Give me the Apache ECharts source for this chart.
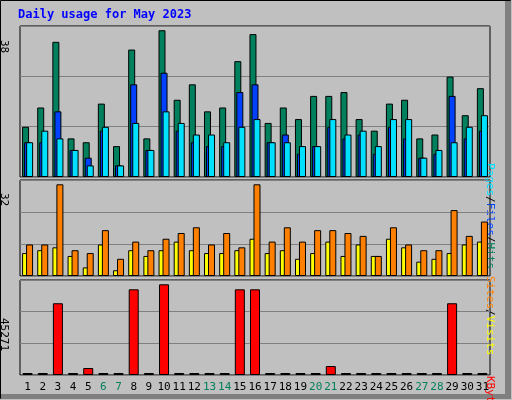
<!DOCTYPE html>
<html>
<head>
<meta charset="utf-8">
<script src="https://cdn.jsdelivr.net/npm/echarts@6/dist/echarts.min.js"></script>
<style>
  html, body { margin: 0; padding: 0; background: #c0c0c0; }
  #chart { width: 512px; height: 400px; }
</style>
</head>
<body>
<div id="chart"></div>
<script>
// daily values for May 2023
var days = ['1','2','3','4','5','6','7','8','9','10','11','12','13','14','15','16',
            '17','18','19','20','21','22','23','24','25','26','27','28','29','30','31'];
var weekendDays = ['6','7','13','14','20','21','27','28'];
var hits  = [13,18,35,10,9,19,8,33,10,38,20,24,17,18,30,37,14,18,15,21,21,22,15,12,19,20,10,11,26,16,23];
var files = [9,9,17,7,5,12,3,24,7,27,12,9,8,8,22,24,9,11,6,8,13,10,11,6,13,10,5,6,21,10,12];
var pages = [9,12,10,7,3,13,3,14,7,17,14,11,11,9,13,15,9,9,8,8,15,11,12,8,15,15,5,7,9,13,16];
var sites  = [8,9,10,7,3,11,2,9,7,9,12,9,8,8,9,13,8,9,6,8,12,7,11,7,13,10,5,6,8,11,12];
var visits = [11,11,32,9,8,16,6,12,9,13,15,17,11,15,10,32,12,17,12,16,16,15,14,7,17,11,9,9,23,14,19];
var kbytes = [200,200,35820,200,3480,200,200,42780,200,45271,1000,200,200,200,42780,42780,
              200,200,200,200,4480,200,1000,200,1000,200,200,200,35820,200,1000];
var maxLabels = ['38', '32', '45271'];

var chart = echarts.init(document.getElementById('chart'));
var mono = 'DejaVu Sans Mono';
var edge = { borderColor: '#000', borderWidth: 1 };

function yAx(idx, max) {
  return {
    gridIndex: idx, min: 0, max: max, interval: max / 3,
    axisLabel: { show: false }, axisLine: { show: false }, axisTick: { show: false },
    splitLine: { lineStyle: { color: '#808080', width: 1 } }
  };
}
function xAx(idx, labels) {
  return {
    gridIndex: idx, type: 'category', data: days,
    axisLine: { show: false }, axisTick: { show: false },
    axisLabel: labels ? {
      show: true, fontFamily: mono, fontSize: 11, margin: 7, interval: 0,
      color: function (v) { return weekendDays.indexOf(v) >= 0 ? '#00805c' : '#000'; }
    } : { show: false }
  };
}
function sideText(x, y, parts) {
  return {
    type: 'text', x: x, y: y, rotation: -Math.PI / 2,
    style: { rich: parts.rich, text: parts.text, font: '11px ' + mono }
  };
}

chart.setOption({
  backgroundColor: '#c0c0c0',
  animation: false,
  grid: [
    { left: 20, right: 22, top: 26, height: 151, show: true, backgroundColor: '#c0c0c0', borderColor: '#000', borderWidth: 1 },
    { left: 20, right: 22, top: 180, height: 96, show: true, backgroundColor: '#c0c0c0', borderColor: '#000', borderWidth: 1 },
    { left: 20, right: 22, top: 280, height: 95, show: true, backgroundColor: '#c0c0c0', borderColor: '#000', borderWidth: 1 }
  ],
  xAxis: [xAx(0, false), xAx(1, false), xAx(2, true)],
  yAxis: [yAx(0, 39.1), yAx(1, 33.5), yAx(2, 47430)],
  series: [
    { type: 'bar', xAxisIndex: 0, yAxisIndex: 0, data: hits,  barWidth: 7, barGap: '-71%', itemStyle: Object.assign({ color: '#00805c' }, edge) },
    { type: 'bar', xAxisIndex: 0, yAxisIndex: 0, data: files, barWidth: 7, barGap: '-71%', itemStyle: Object.assign({ color: '#0040ff' }, edge) },
    { type: 'bar', xAxisIndex: 0, yAxisIndex: 0, data: pages, barWidth: 7, barGap: '-71%', itemStyle: Object.assign({ color: '#00e0ff' }, edge) },
    { type: 'bar', xAxisIndex: 1, yAxisIndex: 1, data: sites,  barWidth: 7, barGap: '-43%', itemStyle: Object.assign({ color: '#ffff00' }, edge) },
    { type: 'bar', xAxisIndex: 1, yAxisIndex: 1, data: visits, barWidth: 7, barGap: '-43%', itemStyle: Object.assign({ color: '#ff8000' }, edge) },
    { type: 'bar', xAxisIndex: 2, yAxisIndex: 2, data: kbytes, barWidth: 10, barMinHeight: 2, itemStyle: Object.assign({ color: '#ff0000' }, edge) }
  ],
  graphic: [
    // outer frame
    { type: 'rect', shape: { x: 0.5, y: 0.5, width: 510, height: 398 }, style: { fill: 'none', stroke: '#000' }, silent: true },
    { type: 'rect', shape: { x: 505, y: 1, width: 6, height: 398 }, style: { fill: '#808080' }, silent: true },
    { type: 'rect', shape: { x: 1, y: 394, width: 510, height: 5 }, style: { fill: '#808080' }, silent: true },
    { type: 'text', x: 18, y: 9, style: { text: 'Daily usage for May 2023', fill: '#0000ff', font: 'bold 12px ' + mono } },
    { type: 'text', x: 9, y: 40, rotation: -Math.PI / 2, style: { text: maxLabels[0], fill: '#000', font: '11px ' + mono } },
    { type: 'text', x: 9, y: 193, rotation: -Math.PI / 2, style: { text: maxLabels[1], fill: '#000', font: '11px ' + mono } },
    { type: 'text', x: 9, y: 318, rotation: -Math.PI / 2, style: { text: maxLabels[2], fill: '#000', font: '11px ' + mono } },
    sideText(495, 163, { text: '{a|Pages}{s|/}{b|Files}{s|/}{c|Hits}',
      rich: { a: { fill: '#00e0ff' }, b: { fill: '#0040ff' }, c: { fill: '#00805c' }, s: { fill: '#000' } } }),
    sideText(495, 276, { text: '{a|Sites}{s|/}{b|Visits}',
      rich: { a: { fill: '#ff8000' }, b: { fill: '#ffff00' }, s: { fill: '#000' } } }),
    sideText(495, 376, { text: '{a|KBytes}', rich: { a: { fill: '#ff0000' } } })
  ]
});
</script>
</body>
</html>
